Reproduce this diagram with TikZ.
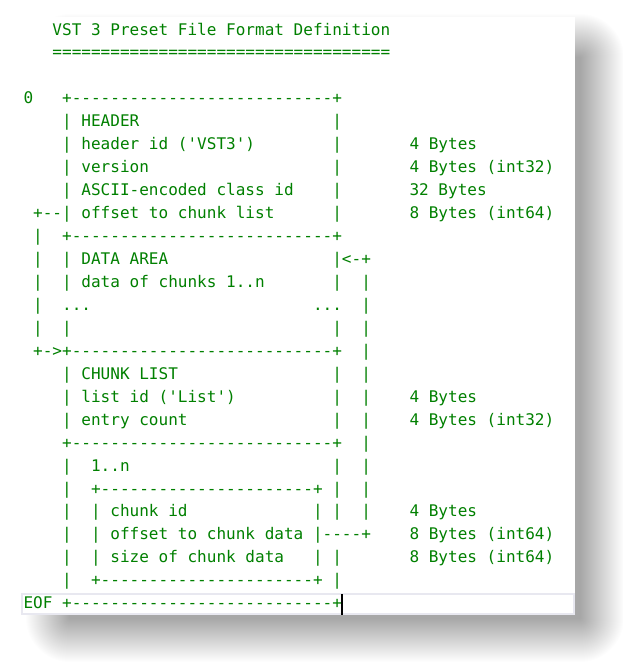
\documentclass[tikz,border=0pt]{standalone}
\usepackage{fontspec}
\setmonofont{DejaVu Sans Mono}
\definecolor{codegreen}{RGB}{0,128,0}
\definecolor{bandgrey}{RGB}{232,232,240}
\newcommand\dten{----------}
\newcommand\dlong{+\dten\dten-------+}
\newcommand\dshort{+\dten\dten--+}
\newcommand\seg[3]{\node[txt] (r#1c#2) at ({23.5+9.65*#2},{35+22.95*#1}) {#3};}
\begin{document}
\begin{tikzpicture}[x=1pt,y=-1pt,
  txt/.style={anchor=base west, inner sep=0pt, outer sep=0pt, text=codegreen,
    font=\ttfamily\fontsize{16.03pt}{20pt}\selectfont}]
\useasboundingbox (0,0) rectangle (623,664);
\fill[white] (0,0) rectangle (623,664);
% drop shadow
\foreach \i in {1,...,44}
  \fill[black, opacity=0.0075, rounded corners=\i pt] (70-\i,58-\i) rectangle (580+\i,618+\i);
% panel
\fill[white] (17,17) rectangle (575,615);
% current-line band
\draw[bandgrey, line width=2pt, fill=white] (22,594) rectangle (574,614);
% text
\seg{0}{3}{VST 3 Preset File Format Definition}
\seg{1}{3}{===================================}
\seg{3}{0}{0}
\seg{3}{4}{\dlong}
\seg{4}{4}{|}\seg{4}{6}{HEADER}\seg{4}{32}{|}
\seg{5}{4}{|}\seg{5}{6}{header id ('VST3')}\seg{5}{32}{|}\seg{5}{40}{4 Bytes}
\seg{6}{4}{|}\seg{6}{6}{version}\seg{6}{32}{|}\seg{6}{40}{4 Bytes (int32)}
\seg{7}{4}{|}\seg{7}{6}{ASCII-encoded class id}\seg{7}{32}{|}\seg{7}{40}{32 Bytes}
\seg{8}{1}{+--|}\seg{8}{6}{offset to chunk list}\seg{8}{32}{|}\seg{8}{40}{8 Bytes (int64)}
\seg{9}{1}{|}\seg{9}{4}{\dlong}
\seg{10}{1}{|}\seg{10}{4}{|}\seg{10}{6}{DATA AREA}\seg{10}{32}{|<-+}
\seg{11}{1}{|}\seg{11}{4}{|}\seg{11}{6}{data of chunks 1..n}\seg{11}{32}{|}\seg{11}{35}{|}
\seg{12}{1}{|}\seg{12}{4}{...}\seg{12}{30}{...}\seg{12}{35}{|}
\seg{13}{1}{|}\seg{13}{4}{|}\seg{13}{32}{|}\seg{13}{35}{|}
\seg{14}{1}{+->\dlong}\seg{14}{35}{|}
\seg{15}{4}{|}\seg{15}{6}{CHUNK LIST}\seg{15}{32}{|}\seg{15}{35}{|}
\seg{16}{4}{|}\seg{16}{6}{list id ('List')}\seg{16}{32}{|}\seg{16}{35}{|}\seg{16}{40}{4 Bytes}
\seg{17}{4}{|}\seg{17}{6}{entry count}\seg{17}{32}{|}\seg{17}{35}{|}\seg{17}{40}{4 Bytes (int32)}
\seg{18}{4}{\dlong}\seg{18}{35}{|}
\seg{19}{4}{|}\seg{19}{7}{1..n}\seg{19}{32}{|}\seg{19}{35}{|}
\seg{20}{4}{|}\seg{20}{7}{\dshort}\seg{20}{32}{|}\seg{20}{35}{|}
\seg{21}{4}{|}\seg{21}{7}{|}\seg{21}{9}{chunk id}\seg{21}{30}{|}\seg{21}{32}{|}\seg{21}{35}{|}\seg{21}{40}{4 Bytes}
\seg{22}{4}{|}\seg{22}{7}{|}\seg{22}{9}{offset to chunk data}\seg{22}{30}{|----+}\seg{22}{40}{8 Bytes (int64)}
\seg{23}{4}{|}\seg{23}{7}{|}\seg{23}{9}{size of chunk data}\seg{23}{30}{|}\seg{23}{32}{|}\seg{23}{40}{8 Bytes (int64)}
\seg{24}{4}{|}\seg{24}{7}{\dshort}\seg{24}{32}{|}
\seg{25}{0}{EOF}\seg{25}{4}{\dlong}
% text cursor
\draw[black, line width=1.4pt] (r25c4.east |- 0,594) -- (r25c4.east |- 0,615);
\end{tikzpicture}
\end{document}
